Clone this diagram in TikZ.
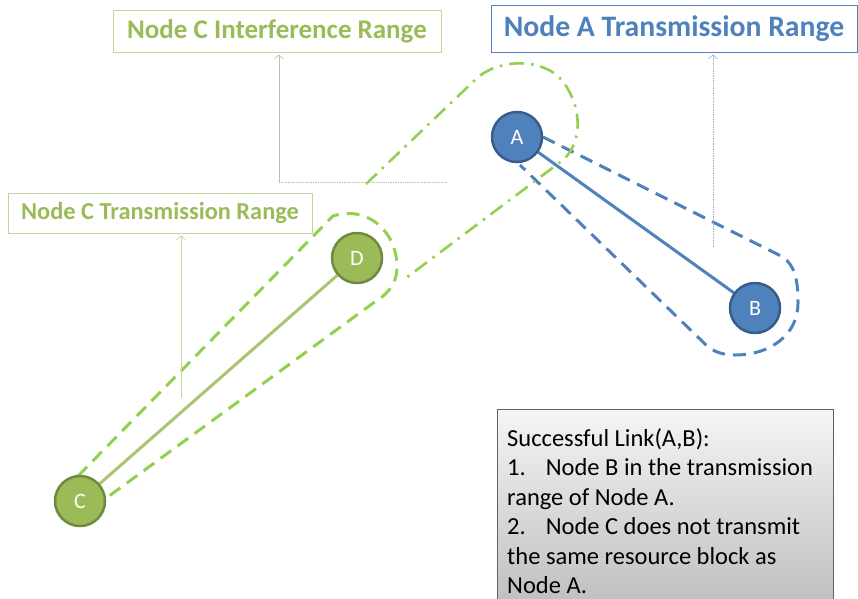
\documentclass[tikz,border=0pt]{standalone}
\usepackage{fontspec}
\setmainfont{Carlito}
\usetikzlibrary{arrows.meta,calc}
\pgfdeclarelayer{bg}
\pgfsetlayers{bg,main}

\definecolor{oliveG}{HTML}{9BBB59}
\definecolor{oliveD}{HTML}{71893F}
\definecolor{oliveL}{HTML}{C3D69B}
\definecolor{limeG}{HTML}{92D050}
\definecolor{blueM}{HTML}{4F81BD}
\definecolor{blueD}{HTML}{385D8A}
\definecolor{blueL}{HTML}{95B3D7}

\tikzset{
  station/.style={circle, minimum size=50pt, inner sep=0pt, line width=2.5pt,
    text=white, font=\fontsize{22}{26}\selectfont},
  bluestation/.style={station, fill=blueM, draw=blueD},
  greenstation/.style={station, fill=oliveG, draw=oliveD},
  link/.style={line width=3pt},
  rangeblue/.style={draw=blueM, line width=3pt, dash pattern=on 13pt off 8pt},
  rangegreen/.style={draw=limeG, line width=3pt, dash pattern=on 13pt off 8pt},
  rangeinter/.style={draw=limeG, line width=2.6pt,
    dash pattern=on 15pt off 7pt on 2.5pt off 7pt},
  tag/.style={rectangle, draw, line width=0.8pt, inner sep=0pt, fill=white,
    font=\bfseries},
  pointer/.style={line width=0.7pt, shorten >=2pt,
    -{Straight Barb[length=4pt,width=9pt]}},
}

\begin{document}
\begin{tikzpicture}[x=1pt,y=-1pt]
\useasboundingbox (0,0) rectangle (858,598);

% stations
\node[bluestation]  (A) at (517,137) {A};
\node[bluestation]  (B) at (755,308) {B};
\node[greenstation] (C) at (80,501)  {C};
\node[greenstation] (D) at (357,258) {D};

% range labels
\node[tag, draw=oliveL, text=oliveG, minimum width=328pt, minimum height=42pt,
      font=\bfseries\fontsize{27}{32}\selectfont] (ilabel) at (277,31)
      {Node C Interference Range};
\node[tag, draw=blueM, text=blueM, minimum width=366pt, minimum height=47pt,
      font=\bfseries\fontsize{29.7}{35}\selectfont] (alabel) at (674,28.5)
      {Node A Transmission Range};
\node[tag, draw=oliveL, text=oliveG, minimum width=304pt, minimum height=40pt,
      font=\bfseries\fontsize{24.4}{29}\selectfont] (clabel) at (160,213)
      {Node C Transmission Range};

% condition box; the text node is placed by the baseline of its last line
\node[rectangle, draw=black!62, line width=1.2pt, top color=black!4,
      bottom color=black!25, minimum width=336pt, minimum height=195pt,
      anchor=north west, inner sep=0pt] (note) at (497,409) {};
\node[anchor=base west, align=left, inner sep=0pt,
      font=\fontsize{24.5}{29.5}\selectfont] (notetext) at (507,593.5)
      {Successful Link(A,B):\\
       1.\hspace{20pt}Node B in the transmission\\
       range of Node A.\\
       2.\hspace{20pt}Node C does not transmit\\
       the same resource block as\\
       Node A.};

% pointer feet
\coordinate (ifoot) at (279,182);
\coordinate (iend)  at (447,182);
\coordinate (afoot) at (713,247);
\coordinate (cfoot) at (181,398);

\begin{pgfonlayer}{bg}
  % links
  \draw[link, blueM] (A) -- (B);
  \draw[link, oliveG!85] (C) -- (D);

  % transmission range of A
  \draw[rangeblue] (543,137) -- (783,257)
    .. controls (795,266) and (798,280) .. (798,303)
    .. controls (798,335) and (770,355) .. (735,355)
    .. controls (720,355) and (710,350) .. (703,342) -- (520,165);

  % transmission range of C
  \draw[rangegreen] (78,476) -- (333,216)
    .. controls (368,205) and (397,232) .. (397,267)
    .. controls (397,283) and (388,294) .. (376,301) -- (105,499);

  % interference range of C
  \draw[rangeinter] (366,184) -- (476,79)
    .. controls (498,58) and (548,56) .. (566,86)
    .. controls (582,110) and (582,143) .. (563,160) -- (402,281);

  % pointers
  \draw[pointer, oliveL!80!black!70] (ifoot) -- (ifoot |- ilabel.south);
  \draw[line width=0.7pt, oliveL!80!black!70, densely dotted] (ifoot) -- (iend);
  \draw[pointer, blueL, densely dotted] (afoot) -- (afoot |- alabel.south);
  \draw[pointer, oliveL] (cfoot) -- (cfoot |- clabel.south);
\end{pgfonlayer}
\end{tikzpicture}
\end{document}
